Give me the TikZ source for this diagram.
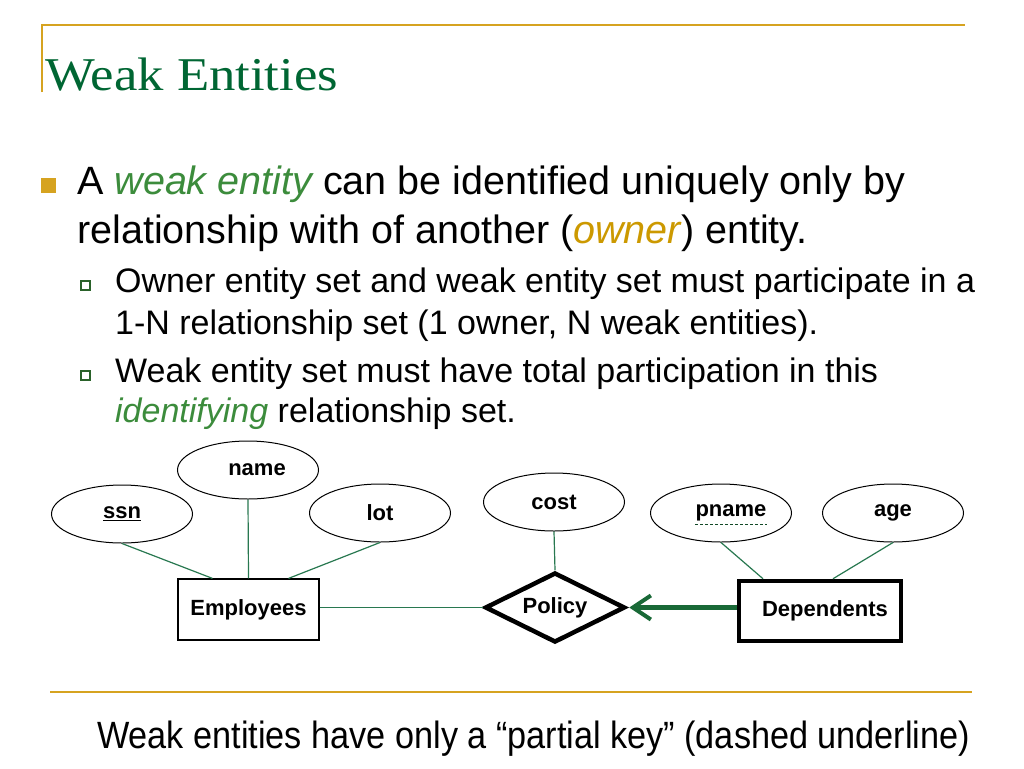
\documentclass[tikz,border=0pt]{standalone}
\usepackage{fontspec}
\setmainfont{Liberation Sans}
\newfontfamily\titlefont{Liberation Serif}
\usetikzlibrary{shapes.geometric,arrows.meta}
\definecolor{gold}{RGB}{214,163,32}
\definecolor{titlegreen}{RGB}{0,102,51}
\definecolor{itgreen}{RGB}{60,140,60}
\definecolor{ownergold}{RGB}{204,153,0}
\definecolor{linkgreen}{RGB}{40,120,80}
\definecolor{arrowgreen}{RGB}{25,105,55}
\tikzset{
  attr/.style={draw,ellipse,line width=1pt,inner sep=0pt,minimum width=141pt,minimum height=58pt,font=\fontsize{22}{24}\selectfont\bfseries},
  entity/.style={draw,rectangle,inner sep=0pt,font=\fontsize{22}{24}\selectfont\bfseries},
  rel/.style={draw,diamond,aspect=2,line width=4.5pt,inner sep=0pt,minimum width=140pt,minimum height=70pt,font=\fontsize{22}{24}\selectfont\bfseries},
  link/.style={draw=linkgreen,line width=1.2pt},
  txt/.style={anchor=base west,inner sep=0pt}
}
\begin{document}
\begin{tikzpicture}[x=1pt,y=-1pt]
  \useasboundingbox[fill=white] (0,0) rectangle (1024,768);
  % frame lines
  \draw[gold,line width=2pt] (42,92) -- (42,25) -- (965,25);
  \draw[gold,line width=2pt] (50,692) -- (972,692);
  \node[txt,text=titlegreen] (title) at (45,90) {\resizebox{293pt}{\height}{\titlefont\fontsize{47}{50}\selectfont Weak Entities}};
  % bullets
  \fill[gold] (41,178) rectangle (56,193);
  \node[txt,font=\fontsize{39.5}{47}\selectfont] (b1) at (77,194) {A \textit{\color{itgreen}weak entity} can be identified uniquely only by};
  \node[txt,font=\fontsize{39.5}{47}\selectfont] (b2) at (77,243) {relationship with of another (\textit{\color{ownergold}owner}) entity.};
  \draw[itgreen!70!black,line width=1.2pt] (81,281) rectangle (90,290);
  \draw[itgreen!70!black,line width=1.2pt] (81,371) rectangle (90,380);
  \node[txt,font=\fontsize{34}{40}\selectfont] (s1) at (115,292) {Owner entity set and weak entity set must participate in a};
  \node[txt,font=\fontsize{34}{40}\selectfont] (s2) at (115,334) {1-N relationship set (1 owner, N weak entities).};
  \node[txt,font=\fontsize{34}{40}\selectfont] (s3) at (115,382) {Weak entity set must have total participation in this};
  \node[txt,font=\fontsize{34}{40}\selectfont] (s4) at (115,422) {\textit{\color{itgreen}identifying} relationship set.};
  % ER diagram
  \node[attr] (ssn) at (122,514) {\underline{ssn}};
  \node[attr] (name) at (248,470) {\hspace{18pt}name};
  \node[attr] (lot) at (380,513) {lot};
  \node[attr] (cost) at (554,502) {cost};
  \node[attr] (pname) at (721,513) {\hspace{20pt}pname};
  \node[attr] (age) at (893,513) {age};
  \node[entity,line width=1.2pt,minimum width=141pt,minimum height=61pt] (emp) at (248.5,609.5) {Employees};
  \node[rel] (policy) at (555,607.5) {Policy};
  \node[entity,line width=4.5pt,minimum width=162pt,minimum height=60pt] (dep) at (820,611) {\hspace{10pt}Dependents};
  \draw[arrowgreen!70!black,dashed,dash pattern=on 3pt off 2pt,line width=1pt] ([xshift=-26pt,yshift=-8pt]pname.base) -- ([xshift=46pt,yshift=-8pt]pname.base);
  \draw[link] (ssn.south) -- ([xshift=-36pt]emp.north);
  \draw[link] (name.south) -- (emp.north);
  \draw[link] (lot.south) -- ([xshift=40pt]emp.north);
  \draw[link] (policy.west -| emp.east) -- (policy.west);
  \draw[link] (cost.south) -- (policy.north);
  \draw[link] (pname.south) -- ([xshift=-57pt]dep.north);
  \draw[link] (age.south) -- ([xshift=13pt]dep.north);
  \draw[arrowgreen,line width=5pt,-{Straight Barb[length=18pt,width=24pt,line width=4pt]}] (policy.east -| dep.west) -- ([xshift=2pt]policy.east);
  % footer
  \node[txt] (foot) at (97,748) {\resizebox{873pt}{\height}{\fontsize{38}{42}\selectfont Weak entities have only a “partial key” (dashed underline)}};
\end{tikzpicture}
\end{document}
